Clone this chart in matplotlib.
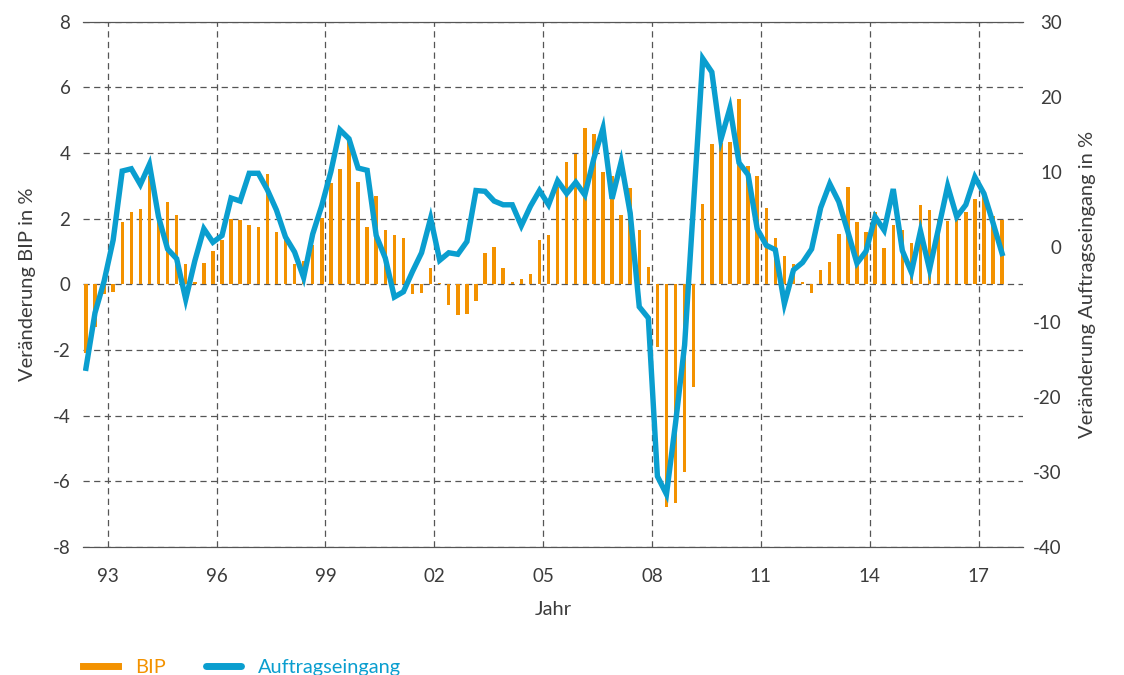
import numpy as np
import matplotlib
matplotlib.use("Agg")
import matplotlib.pyplot as plt
from matplotlib.lines import Line2D

plt.rcParams['font.family'] = ['Lato', 'DejaVu Sans']
plt.rcParams['axes.unicode_minus'] = False

# quarterly values, 1993Q1 .. 2018Q2
bip = [-2.1, -1.3, -0.3, -0.25, 1.9, 2.2, 2.3, 3.3, 2.0, 2.5, 2.1, 0.62,
       0.07, 0.65, 1.0, 1.35, 2.0, 1.95, 1.82, 1.74, 3.35, 1.6, 1.5, 0.62,
       0.72, 1.21, 2.03, 3.1, 3.52, 4.35, 3.12, 1.74, 2.7, 1.64, 1.5, 1.4,
       -0.3, -0.26, 0.5, 0.03, -0.62, -0.95, -0.9, -0.51, 0.96, 1.15, 0.51, 0.08,
       0.15, 0.31, 1.35, 1.5, 2.95, 3.72, 3.97, 4.77, 4.57, 3.42, 3.3, 2.12,
       2.93, 1.64, 0.52, -1.9, -6.8, -6.68, -5.72, -3.12, 2.44, 4.28, 4.3, 4.33,
       5.66, 3.6, 3.3, 2.34, 1.4, 0.87, 0.62, 0.08, -0.26, 0.43, 0.69, 1.52,
       2.95, 1.9, 1.6, 2.2, 1.11, 1.82, 1.66, 1.26, 2.41, 2.26, 1.95, 1.92,
       2.0, 2.2, 2.6, 2.8, 2.07, 1.95]

auftrag = [-16.2, -8.8, -4.6, 0.9, 10.1, 10.4, 8.3, 11.0, 4.0, -0.3, -1.6, -7.0,
           -1.9, 2.4, 0.6, 1.5, 6.5, 6.1, 9.8, 9.8, 7.6, 4.9, 1.3, -0.7,
           -4.1, 1.7, 5.5, 10.0, 15.6, 14.4, 10.5, 10.2, 1.5, -1.5, -6.7, -6.0,
           -3.3, -0.8, 3.8, -1.8, -0.8, -1.0, 0.7, 7.5, 7.4, 6.1, 5.6, 5.6,
           2.8, 5.4, 7.5, 5.6, 8.8, 7.1, 8.6, 6.9, 11.8, 15.8, 6.4, 11.3,
           4.5, -8.0, -9.5, -30.6, -33.0, -23.5, -13.1, 6.0, 25.1, 23.3, 14.3, 18.5,
           11.2, 9.6, 2.4, 0.2, -0.4, -7.6, -3.1, -2.1, -0.3, 5.2, 8.4, 6.0,
           2.0, -2.2, -0.6, 4.0, 2.2, 7.7, -0.5, -3.4, 2.1, -3.0, 2.5, 8.1,
           4.0, 5.6, 9.3, 7.1, 3.2, -0.9]

jahre = ['93', '96', '99', '02', '05', '08', '11', '14', '17']

orange = '#F39200'
blau = '#0A9ECF'
grau = '#3C3C3C'

x = np.arange(len(bip))

fig = plt.figure(figsize=(11.24, 6.75), dpi=100)
ax = fig.add_axes([0.0738, 0.190, 0.8363, 0.7777])
ax2 = ax.twinx()

ax.bar(x, bip, width=0.38, color=orange, zorder=2)
ax2.plot(x, auftrag, color=blau, lw=3.9, solid_joinstyle='miter', zorder=3)

ax.set_ylim(-8, 8)
ax.set_yticks(np.arange(-8, 9, 2))
ax2.set_ylim(-40, 30)
ax2.set_yticks(np.arange(-40, 31, 10))
ax.set_xlim(-0.33, 103.3)
ax.set_xticks(2.4 + 12 * np.arange(len(jahre)))
ax.set_xticklabels(jahre)

for a in (ax, ax2):
    a.spines['left'].set_visible(False)
    a.spines['right'].set_visible(False)
    a.spines['top'].set_color('#555555')
    a.spines['bottom'].set_color('#555555')
    a.tick_params(length=0, labelsize=13.5, colors=grau)

ax.tick_params(axis='y', pad=9)
ax.tick_params(axis='x', pad=15)
ax2.tick_params(axis='y', pad=28)
for t in ax2.get_yticklabels():
    t.set_horizontalalignment('right')

ax.grid(True, ls=(0, (5, 3.5)), color='#555555', lw=0.9, zorder=0)
ax.set_axisbelow(True)

ax.set_ylabel('Veränderung BIP in %', fontsize=14.5, color=grau, labelpad=12)
ax2.set_ylabel('Veränderung Auftragseingang in %', fontsize=14.5, color=grau, labelpad=12)
ax.set_xlabel('Jahr', fontsize=14.5, color=grau, labelpad=12)

handles = [Line2D([], [], color=orange, lw=5),
           Line2D([], [], color=blau, lw=5, solid_capstyle='round')]
leg = fig.legend(handles, ['BIP', 'Auftragseingang'], loc='lower left',
                 bbox_to_anchor=(0.058, -0.028), ncol=2, frameon=False,
                 fontsize=14.4, handlelength=1.75, columnspacing=2.0, handletextpad=0.85)
for t, c in zip(leg.get_texts(), [orange, blau]):
    t.set_color(c)

fig.savefig('out.png', dpi=100)
